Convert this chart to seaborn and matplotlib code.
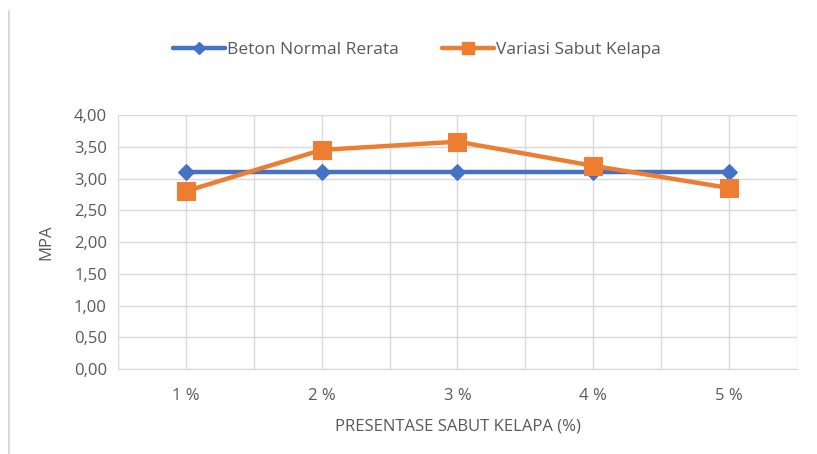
import matplotlib
matplotlib.use("Agg")
import matplotlib.pyplot as plt
import numpy as np
import pandas as pd
import seaborn as sns
from matplotlib.lines import Line2D

# Data
categories = ["1 %", "2 %", "3 %", "4 %", "5 %"]
beton_normal = [3.10, 3.10, 3.10, 3.10, 3.10]
variasi_sabut = [2.80, 3.45, 3.58, 3.20, 2.85]
yticks = [0.0, 0.5, 1.0, 1.5, 2.0, 2.5, 3.0, 3.5, 4.0]

sns.set_style("white")
plt.rcParams["font.family"] = ["Liberation Sans Narrow", "Open Sans", "DejaVu Sans"]

text_color = "#595959"
grid_color = "#d9d9d9"
blue = "#4472c4"
orange = "#ed7d31"

df = pd.DataFrame({
    "pos": list(range(len(categories))) * 2,
    "val": beton_normal + variasi_sabut,
    "series": ["Beton Normal Rerata"] * 5 + ["Variasi Sabut Kelapa"] * 5,
})

fig = plt.figure(figsize=(8.17, 4.54), dpi=100)
ax = fig.add_axes([0.1444, 0.1872, 0.8311, 0.5595])

sns.lineplot(data=df[df.series == "Beton Normal Rerata"], x="pos", y="val",
             color=blue, linewidth=3.2, marker="D", markersize=8,
             markeredgecolor=blue, ax=ax, zorder=3)
sns.lineplot(data=df[df.series == "Variasi Sabut Kelapa"], x="pos", y="val",
             color=orange, linewidth=3.2, marker="s", markersize=12.5,
             markeredgecolor=orange, ax=ax, zorder=4)

ax.set_xlim(-0.5, len(categories) - 0.5)
ax.set_ylim(0, 4)
ax.set_xticks(range(len(categories)))
ax.set_xticks(np.arange(-0.5, len(categories), 1.0), minor=True)
ax.set_xticklabels(categories)
ax.set_yticks(yticks)
ax.set_yticklabels([f"{v:.2f}".replace(".", ",") for v in yticks])

ax.grid(True, which="both", axis="x", color=grid_color, linewidth=1.0)
ax.grid(True, which="major", axis="y", color=grid_color, linewidth=1.0)
ax.set_axisbelow(True)
for s in ax.spines.values():
    s.set_visible(False)
ax.spines["bottom"].set_visible(True)
ax.spines["bottom"].set_color(grid_color)
ax.tick_params(axis="both", which="both", length=0, colors=text_color, labelsize=12)
ax.tick_params(axis="x", pad=14)
ax.tick_params(axis="y", pad=8)

ax.set_xlabel("PRESENTASE SABUT KELAPA (%)", color=text_color, fontsize=12, labelpad=10)
ax.set_ylabel("MPA", color=text_color, fontsize=12, labelpad=14)

handles = [
    Line2D([], [], color=blue, linewidth=3.2, marker="D", markersize=6),
    Line2D([], [], color=orange, linewidth=3.2, marker="s", markersize=8),
]
fig.legend(handles, ["Beton Normal Rerata", "Variasi Sabut Kelapa"],
           loc="center", bbox_to_anchor=(0.51, 0.89), ncol=2, frameon=False,
           fontsize=12.5, labelcolor=text_color, handlelength=3.0,
           handletextpad=0.1, columnspacing=2.5)

# chart frame edge on the left
fig.add_artist(Line2D([0.011, 0.011], [0.0, 0.975], transform=fig.transFigure,
                      color=grid_color, linewidth=1.5))

fig.savefig("out.png", dpi=100)
